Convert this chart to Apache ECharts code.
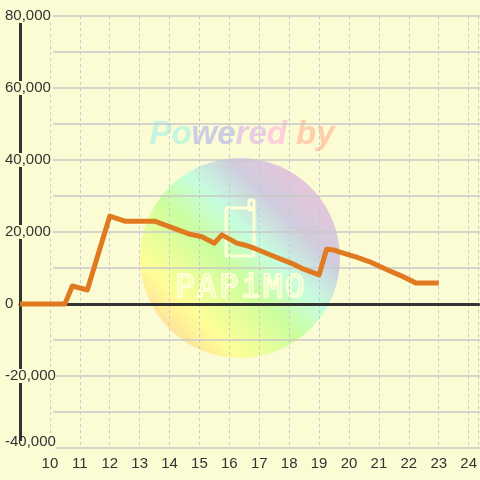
<!DOCTYPE html>
<html>
<head>
<meta charset="utf-8">
<script src="https://cdn.jsdelivr.net/npm/echarts@6/dist/echarts.min.js"></script>
<style>
  html, body { margin: 0; padding: 0; background: #fcfcd4; }
  #chart { width: 480px; height: 480px; }
</style>
</head>
<body>
<div id="chart"></div>
<script>
// hours of day and the plotted values
var hours = [9, 10.5, 10.75, 11.25, 12, 12.5, 13.5, 14.67, 15.08, 15.5, 15.75, 16.25, 16.5, 16.83, 17.5, 18.08, 18.42, 19, 19.25, 19.5, 19.67, 20.25, 20.67, 21.33, 21.67, 22.25, 23]
var values = [0, 0, 5000, 3900, 24400, 23000, 23000, 19400, 18700, 16900, 19200, 16900, 16400, 15500, 13200, 11300, 9900, 8100, 15200, 15000, 14500, 13000, 11800, 9300, 8100, 5800, 5800]
var yMin = -40000
var yMax = 80000
var xMin = 9
var xMax = 24.333

var bg = '#fcfcd4'
var chart = echarts.init(document.getElementById('chart'))

var points = hours.map(function(h, i) { return [h, values[i]] })

// watermark logo letters
var logoLetters = ['P', 'A', 'P', 'i', 'M', 'O']
var logoChildren = logoLetters.map(function(ch, i) {
  return {
    type: 'text',
    x: 185 + i * 22,
    y: 289,
    style: {
      text: ch,
      font: '32px "DejaVu Sans Mono"',
      align: 'center',
      verticalAlign: 'middle',
      fill: 'none',
      stroke: '#ffffd8',
      lineWidth: 2
    }
  }
})

chart.setOption({
  backgroundColor: bg,
  animation: false,
  textStyle: { fontFamily: 'Liberation Sans' },
  grid: [
    { left: 20, right: 0, top: 16, bottom: 32 },
    { left: 53, right: 0, top: 16, bottom: 32 }
  ],
  xAxis: [
    {
      gridIndex: 0,
      type: 'value',
      min: xMin,
      max: xMax,
      interval: 1,
      position: 'bottom',
      axisLine: { show: false, onZero: false },
      axisTick: { show: false },
      axisLabel: {
        color: '#333',
        fontSize: 15,
        margin: 8,
        showMaxLabel: false,
        formatter: function(v) {
          return (v >= 10 && Math.abs(v - Math.round(v)) < 1e-6) ? String(v) : ''
        }
      },
      splitLine: { show: true, lineStyle: { color: '#c8c8d0', type: [3, 3], width: 1 } },
      z: 0
    },
    {
      // zero line
      gridIndex: 0,
      type: 'value',
      min: xMin,
      max: xMax,
      position: 'bottom',
      axisLine: { show: true, onZero: true, lineStyle: { color: '#333', width: 3 } },
      axisTick: { show: false },
      axisLabel: { show: false },
      splitLine: { show: false },
      z: 2
    },
    { gridIndex: 1, type: 'value', min: 0, max: 1, show: false }
  ],
  yAxis: [
    {
      gridIndex: 0,
      type: 'value',
      min: yMin,
      max: yMax,
      interval: 10000,
      axisLine: { show: true, onZero: false, lineStyle: { color: '#333', width: 3 } },
      axisTick: { show: false },
      axisLabel: {
        color: '#333',
        fontSize: 15,
        align: 'left',
        margin: 15,
        backgroundColor: bg,
        lineHeight: 14,
        rich: {
          low: { fontSize: 15, color: '#333', lineHeight: 14, padding: [0, 0, 12, 0] }
        },
        formatter: function(v) {
          if (v % 20000 !== 0) return ''
          var s = v.toLocaleString('en-US')
          return v === yMin ? '{low|' + s + '}' : s
        }
      },
      splitLine: { show: false },
      z: 4
    },
    {
      gridIndex: 1,
      type: 'value',
      min: yMin,
      max: yMax,
      interval: 10000,
      axisLine: { show: false },
      axisTick: { show: false },
      axisLabel: { show: false },
      splitLine: { show: true, lineStyle: { color: '#c8c8c8', width: 1.5 } },
      z: 0
    }
  ],
  graphic: [
    {
      type: 'group',
      z: 1,
      silent: true,
      children: [
        {
          type: 'circle',
          shape: { cx: 240, cy: 258, r: 100 },
          style: {
            opacity: 0.8,
            fill: new echarts.graphic.LinearGradient(0, 1, 1, 0, [
              { offset: 0, color: '#ffb090' },
              { offset: 0.25, color: '#ffff88' },
              { offset: 0.45, color: '#c0ff90' },
              { offset: 0.58, color: '#b8ffe0' },
              { offset: 0.72, color: '#c4c0e0' },
              { offset: 1, color: '#ffb0d8' }
            ])
          }
        },
        {
          type: 'text',
          x: 242,
          y: 135,
          style: {
            text: '{a|Po}{b|we}{c|re}{d|d }{e|by}',
            font: 'italic bold 33px "Liberation Sans"',
            align: 'center',
            verticalAlign: 'middle',
            opacity: 0.9,
            rich: {
              a: { font: 'italic bold 33px "Liberation Sans"', fill: '#bcf4e0' },
              b: { font: 'italic bold 33px "Liberation Sans"', fill: '#c4c8e4' },
              c: { font: 'italic bold 33px "Liberation Sans"', fill: '#e4c8e4' },
              d: { font: 'italic bold 33px "Liberation Sans"', fill: '#ffc8dc' },
              e: { font: 'italic bold 33px "Liberation Sans"', fill: '#ffc8a4' }
            }
          }
        },
        {
          type: 'rect',
          shape: { x: 226, y: 208, width: 28, height: 48, r: 2 },
          style: { fill: 'none', stroke: '#ffffd4', lineWidth: 3 }
        },
        {
          type: 'rect',
          shape: { x: 249, y: 200, width: 5, height: 10, r: 1 },
          style: { fill: 'none', stroke: '#ffffd4', lineWidth: 3 }
        }
      ].concat(logoChildren)
    }
  ],
  series: [
    {
      type: 'line',
      xAxisIndex: 0,
      yAxisIndex: 0,
      data: points,
      symbol: 'none',
      z: 5,
      lineStyle: { color: '#e07a20', width: 5, join: 'round' }
    }
  ]
})
</script>
</body>
</html>
